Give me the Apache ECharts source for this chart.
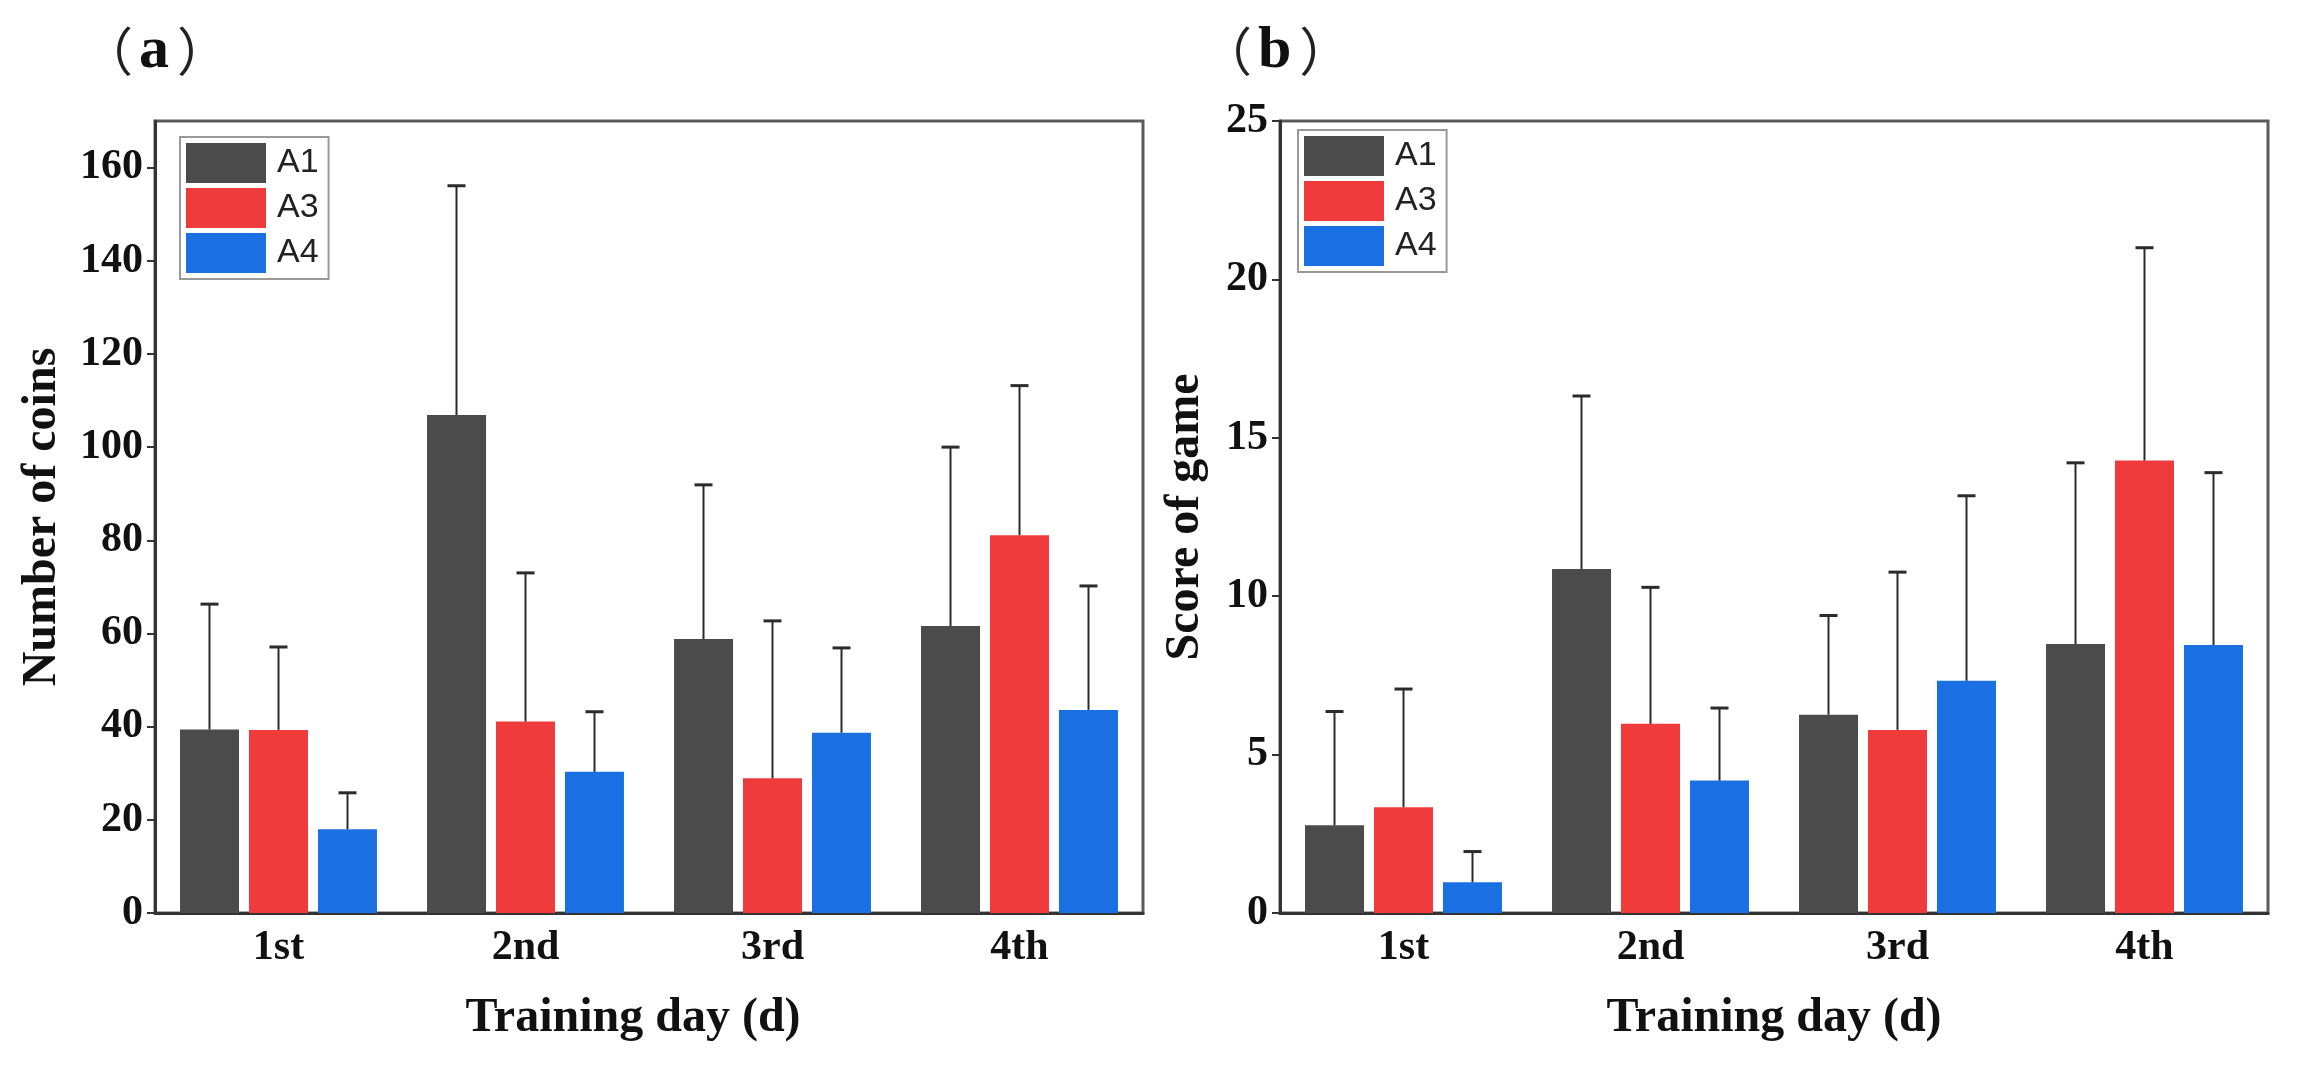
<!DOCTYPE html>
<html>
<head>
<meta charset="utf-8">
<script src="https://cdn.jsdelivr.net/npm/echarts@6/dist/echarts.min.js"></script>
<style>html,body{margin:0;padding:0;background:#fff;}#c{width:2306px;height:1076px;}</style>
</head>
<body>
<div id="c"></div>
<script>
// ---- data ----
var categories = ['1st', '2nd', '3rd', '4th'];
var seriesNames = ['A1', 'A3', 'A4'];
// (a) Number of coins: means and upper error-bar ends
var coinsA1 = [39.4, 106.9, 58.8, 61.6];
var coinsA3 = [39.3, 41.1, 28.9, 81.1];
var coinsA4 = [18.0, 30.3, 38.7, 43.6];
var coinsA1Upper = [66.3, 156.1, 91.9, 100.0];
var coinsA3Upper = [57.1, 73.0, 62.7, 113.2];
var coinsA4Upper = [25.8, 43.2, 56.9, 70.2];
// (b) Score of game
var scoreA1 = [2.77, 10.86, 6.26, 8.49];
var scoreA3 = [3.34, 5.97, 5.78, 14.28];
var scoreA4 = [0.97, 4.18, 7.33, 8.46];
var scoreA1Upper = [6.36, 16.32, 9.39, 14.21];
var scoreA3Upper = [7.07, 10.28, 10.76, 21.0];
var scoreA4Upper = [1.94, 6.47, 13.17, 13.9];
// tick labels
var coinsTicks = [0, 20, 40, 60, 80, 100, 120, 140, 160];
var scoreTicks = [0, 5, 10, 15, 20, 25];

var colors = ['#4b4b4b', '#ef3b3b', '#1a6fe3'];
var BAR_W = 59, BAR_GAP = 10;

var serif = '"Liberation Serif", "Times New Roman", serif';
var chart = echarts.init(document.getElementById('c'));

function errSeries(name, gridIdx, seriesIdx, means, uppers) {
  var data = means.map(function (m, i) { return [i, m, uppers[i]]; });
  return {
    type: 'custom',
    name: name,
    xAxisIndex: gridIdx, yAxisIndex: gridIdx,
    z: 10,
    silent: true,
    data: data,
    encode: { x: 0, y: [1, 2] },
    renderItem: function (params, api) {
      var c = api.value(0);
      var lo = api.coord([c, api.value(1)]);
      var hi = api.coord([c, api.value(2)]);
      var x = lo[0] + (seriesIdx - 1) * (BAR_W + BAR_GAP);
      return {
        type: 'group',
        children: [
          { type: 'line', shape: { x1: x, y1: lo[1], x2: x, y2: hi[1] }, style: { stroke: '#2b2b2b', lineWidth: 2 } },
          { type: 'line', shape: { x1: x - 9, y1: hi[1], x2: x + 9, y2: hi[1] }, style: { stroke: '#2b2b2b', lineWidth: 3 } }
        ]
      };
    }
  };
}

function barSeries(name, gridIdx, idx, vals) {
  return {
    type: 'bar', name: name,
    xAxisIndex: gridIdx, yAxisIndex: gridIdx,
    data: vals,
    barWidth: BAR_W,
    barGap: (BAR_GAP / BAR_W * 100).toFixed(1) + '%',
    itemStyle: { color: colors[idx] },
    z: 2
  };
}

function xAxis(gridIdx, namePad) {
  return {
    type: 'category', gridIndex: gridIdx, data: categories,
    name: 'Training day (d)', nameLocation: 'middle', nameGap: 82,
    nameTextStyle: { fontFamily: serif, fontWeight: 'bold', fontSize: 48, color: '#111', padding: namePad },
    axisLine: { lineStyle: { color: '#333', width: 3 } },
    axisTick: { show: true, inside: true, length: 8, alignWithLabel: true, lineStyle: { color: '#333', width: 2 } },
    axisLabel: { fontFamily: serif, fontWeight: 'bold', fontSize: 42, color: '#111', margin: 14 },
    splitLine: { show: false }
  };
}

function yAxis(gridIdx, name, max, interval, ticks, nameGap) {
  return {
    type: 'value', gridIndex: gridIdx, min: 0, max: max, interval: interval,
    name: name, nameLocation: 'middle', nameGap: nameGap, nameRotate: 90,
    nameTextStyle: { fontFamily: serif, fontWeight: 'bold', fontSize: 48, color: '#111' },
    axisLine: { show: true, lineStyle: { color: '#333', width: 3 } },
    axisTick: { show: true, inside: false, length: 8, customValues: ticks, lineStyle: { color: '#333', width: 2 } },
    axisLabel: { fontFamily: serif, fontWeight: 'bold', fontSize: 42, color: '#111', margin: 12, customValues: ticks },
    splitLine: { show: false }
  };
}

function legend(left, top) {
  return {
    left: left, top: top, orient: 'vertical',
    data: seriesNames,
    icon: 'rect', itemWidth: 80, itemHeight: 40, itemGap: 5,
    padding: [6, 10, 6, 6],
    borderColor: '#999', borderWidth: 2,
    textStyle: { fontFamily: '"Liberation Sans", Arial, sans-serif', fontSize: 34, color: '#222', padding: [0, 0, 0, 6] },
    selectedMode: false
  };
}

function panelTitle(letter, left) {
  return {
    text: '{p|（}{l|' + letter + '}{p|）}', left: left, top: 16,
    textStyle: {
      rich: {
        p: { fontFamily: '"Noto Sans CJK SC", sans-serif', fontWeight: 'normal', fontSize: 52, color: '#222' },
        l: { fontFamily: serif, fontWeight: 'bold', fontSize: 60, color: '#111', padding: [0, 8, 0, 6] }
      }
    }
  };
}

var option = {
  backgroundColor: '#fff',
  animation: false,
  title: [panelTitle('a', 76), panelTitle('b', 1195)],
  legend: [legend(180, 137), legend(1298, 130)],
  grid: [
    { left: 155, top: 121, width: 988, height: 792, show: true, borderColor: '#5a5a5a', borderWidth: 3, containLabel: false },
    { left: 1280, top: 121, width: 988, height: 792, show: true, borderColor: '#5a5a5a', borderWidth: 3, containLabel: false }
  ],
  xAxis: [xAxis(0, [0, 32, 0, 0]), xAxis(1, 0)],
  yAxis: [
    yAxis(0, 'Number of coins', 170, 10, coinsTicks, 88),
    yAxis(1, 'Score of game', 25, 5, scoreTicks, 70)
  ],
  series: [
    barSeries('A1', 0, 0, coinsA1),
    barSeries('A3', 0, 1, coinsA3),
    barSeries('A4', 0, 2, coinsA4),
    errSeries('A1', 0, 0, coinsA1, coinsA1Upper),
    errSeries('A3', 0, 1, coinsA3, coinsA3Upper),
    errSeries('A4', 0, 2, coinsA4, coinsA4Upper),
    barSeries('A1', 1, 0, scoreA1),
    barSeries('A3', 1, 1, scoreA3),
    barSeries('A4', 1, 2, scoreA4),
    errSeries('A1', 1, 0, scoreA1, scoreA1Upper),
    errSeries('A3', 1, 1, scoreA3, scoreA3Upper),
    errSeries('A4', 1, 2, scoreA4, scoreA4Upper)
  ]
};
chart.setOption(option);
</script>
</body>
</html>
